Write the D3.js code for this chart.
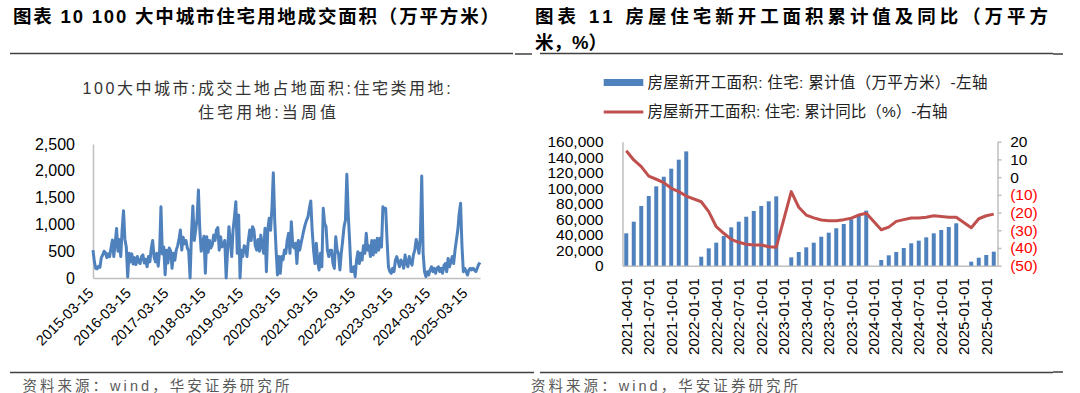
<!DOCTYPE html>
<html>
<head>
<meta charset="utf-8">
<script src="https://cdn.jsdelivr.net/npm/d3@7"></script>
<style>
  body { margin: 0; background: #fff; }
  svg { display: block; font-family: "Liberation Sans", "Noto Sans CJK SC", sans-serif; }
</style>
</head>
<body>
<svg id="chart" width="1080" height="393"></svg>
<script>
// ---------- data: left chart (100 cities, residential land, weekly, sampled) ----------
const landArea = [
  520, 300, 180, 170, 220, 200, 380, 430, 500, 470, 380, 450, 400, 560, 710, 400, 650, 925, 500, 720, 400, 900, 1256, 720, 580, 20,
  460, 300, 450, 260, 380, 250, 400, 300, 270, 400, 430, 280, 350, 210, 400, 300, 550, 700, 400, 300, 460, 220, 500, 1330, 450, 580,
  60, 520, 280, 560, 500, 180, 460, 330, 520, 600, 720, 895, 520, 760, 640, 700, 560, 500, 0, 820, 1343, 700, 890, 1100, 1642, 900,
  500, 650, 780, 90, 770, 480, 700, 560, 620, 800, 700, 900, 940, 520, 770, 580, 600, 700, 0, 500, 958, 700, 400, 900, 1144, 1424,
  460, 1175, 0, 520, 400, 600, 580, 400, 700, 895, 700, 958, 900, 600, 520, 720, 500, 800, 600, 460, 927, 118, 890, 1113, 890, 1300,
  1965, 1080, 520, 56, 400, 87, 400, 340, 520, 460, 700, 833, 460, 1051, 600, 560, 650, 270, 700, 520, 650, 770, 895, 1000, 1080, 1144,
  1300, 1437, 900, 520, 270, 650, 300, 150, 460, 210, 1300, 1020, 958, 520, 400, 520, 520, 270, 180, 770, 520, 450, 150, 460, 700, 958,
  1080, 1934, 1200, 700, 120, 120, 210, 25, 335, 490, 270, 460, 335, 600, 460, 833, 520, 600, 400, 700, 430, 700, 480, 740, 520, 740,
  580, 1330, 1270, 1300, 700, 210, 120, 87, 180, 118, 330, 400, 300, 210, 335, 300, 180, 430, 270, 210, 400, 300, 240, 430, 520, 720,
  600, 460, 771, 1903, 460, 118, 25, 118, 56, 150, 210, 118, 180, 87, 180, 210, 118, 180, 87, 230, 270, 118, 365, 210, 300, 400,
  270, 520, 710, 895, 1200, 1393, 600, 118, 180, 120, 56, 150, 180, 150, 180, 150, 118, 180, 250, 290
];
const landStart = new Date(2015, 2, 15);
const landEnd = new Date(2025, 6, 20);
const landTicks = ["2015-03-15", "2016-03-15", "2017-03-15", "2018-03-15", "2019-03-15", "2020-03-15",
  "2021-03-15", "2022-03-15", "2023-03-15", "2024-03-15", "2025-03-15"];
const landYTicks = [0, 500, 1000, 1500, 2000, 2500];

// ---------- data: right chart (residential new starts, monthly cumulative) ----------
const months = d3.timeMonth.range(new Date(2021, 3, 1), new Date(2025, 5, 1)).map(d3.timeFormat("%Y-%m-01"));
const startsCum = [
  41800, 56800, 77000, 89900, 102400, 114800, 125200, 136800, 147500,
  null, 11600, 22400, 29700, 38300, 49500, 56800, 63200, 70600, 77000, 83100, 89500,
  null, 10800, 17700, 23700, 29700, 37400, 42600, 48300, 53800, 59900, 66300, 71000,
  null, 7400, 13400, 17700, 22800, 28900, 32300, 36600, 41800, 46100, 49900, 54700,
  null, 5200, 10300, 13800, 18100
];
const startsYoy = [
  14.9, 9.7, 5.9, 0.6, -1.2, -3.1, -6.3, -8.2, -10.7,
  null, -13.9, -19.5, -28.0, -31.7, -35.1, -36.8, -37.9, -38.3, -38.3, -39.3, -39.6,
  null, -8.2, -17.0, -21.4, -23.0, -24.2, -24.6, -24.6, -24.0, -23.2, -21.4, -20.4,
  null, -29.7, -28.2, -25.0, -24.0, -23.1, -23.1, -22.6, -21.8, -22.2, -22.6, -22.6,
  null, -28.6, -23.5, -21.8, -20.9
];
const monthTicks = ["2021-04-01", "2021-07-01", "2021-10-01", "2022-01-01", "2022-04-01", "2022-07-01",
  "2022-10-01", "2023-01-01", "2023-04-01", "2023-07-01", "2023-10-01", "2024-01-01", "2024-04-01",
  "2024-07-01", "2024-10-01", "2025-01-01", "2025-04-01"];
const cumTicks = [0, 20000, 40000, 60000, 80000, 100000, 120000, 140000, 160000];
const yoyTicks = [-50, -40, -30, -20, -10, 0, 10, 20];

const blue = "#4f81bd", red = "#c0504d", axisGray = "#bfbfbf";
const svg = d3.select("#chart");

// titles, rules, sources
svg.append("text").attr("x", 13).attr("y", 22.5).attr("font-size", 18.5).attr("font-weight", "bold")
  .attr("textLength", 486).attr("lengthAdjust", "spacing")
  .text("图表 10 100 大中城市住宅用地成交面积（万平方米）");
svg.append("text").attr("x", 535).attr("y", 22.5).attr("font-size", 18.5).attr("font-weight", "bold")
  .attr("textLength", 513).attr("lengthAdjust", "spacing")
  .text("图表 11 房屋住宅新开工面积累计值及同比（万平方");
svg.append("text").attr("x", 535).attr("y", 48.5).attr("font-size", 18.5).attr("font-weight", "bold")
  .text("米，%）");

const rules = [[10, 513, 53.5], [515, 532, 54], [540, 1053, 53.5], [1053, 1063, 54],
  [10, 534, 372.6], [540, 1053, 372.6], [1053, 1063, 372]];
svg.selectAll("line.rule").data(rules).join("line")
  .attr("x1", d => d[0]).attr("x2", d => d[1]).attr("y1", d => d[2]).attr("y2", d => d[2])
  .attr("stroke", "#404040").attr("stroke-width", 1.5);

[22.4, 531].forEach(x => {
  svg.append("text").attr("x", x).attr("y", 385.5).attr("dy", "0.35em").attr("font-size", 14.5)
    .attr("fill", "#595959").attr("textLength", 267).attr("lengthAdjust", "spacing")
    .text("资料来源：wind，华安证券研究所");
});

// ---------- left chart ----------
svg.append("text").attr("x", 82.6).attr("y", 88).attr("dy", "0.35em").attr("font-size", 16)
  .attr("fill", "#333").attr("textLength", 368).attr("lengthAdjust", "spacing")
  .text("100大中城市:成交土地占地面积:住宅类用地:");
svg.append("text").attr("x", 198).attr("y", 112).attr("dy", "0.35em").attr("font-size", 16)
  .attr("fill", "#333").attr("textLength", 138).attr("lengthAdjust", "spacing")
  .text("住宅用地:当周值");

const parseDay = d3.timeParse("%Y-%m-%d");
const landDates = landArea.map((v, i) => new Date(+landStart + i * (landEnd - landStart) / (landArea.length - 1)));
const xL = d3.scaleTime().domain([landStart, landEnd]).range([93, 480]);
const yL = d3.scaleLinear().domain([0, 2500]).range([278, 144]);

function styleAxis(g, size) {
  g.attr("font-family", null).attr("font-size", size);
  g.select(".domain").attr("stroke", axisGray).attr("stroke-width", 1.5);
  g.selectAll(".tick line").attr("stroke", axisGray).attr("stroke-width", 1.5);
  g.selectAll(".tick text").attr("fill", "#000");
}

svg.append("g").attr("transform", "translate(93,0)")
  .call(d3.axisLeft(yL).tickValues(landYTicks).tickFormat(d3.format(",")).tickSize(0).tickPadding(18))
  .call(styleAxis, 16);

svg.append("g").attr("transform", "translate(0,278)")
  .call(d3.axisBottom(xL).tickValues(landTicks.map(parseDay)).tickFormat(d3.timeFormat("%Y-%m-%d"))
    .tickSize(0).tickSizeOuter(0))
  .call(styleAxis, 14.5)
  .selectAll(".tick text")
  .attr("x", 0).attr("y", 0).attr("dy", 0).attr("text-anchor", "end")
  .attr("transform", "translate(1,16) rotate(-45)");

svg.append("path").datum(landArea)
  .attr("d", d3.line().x((d, i) => xL(landDates[i])).y(d => yL(d)))
  .attr("fill", "none").attr("stroke", blue).attr("stroke-width", 3).attr("stroke-linejoin", "round");

// ---------- right chart ----------
svg.append("rect").attr("x", 603.7).attr("y", 79).attr("width", 39.6).attr("height", 7).attr("fill", blue);
svg.append("line").attr("x1", 603.7).attr("x2", 643.3).attr("y1", 112).attr("y2", 112)
  .attr("stroke", red).attr("stroke-width", 3);
svg.append("text").attr("x", 647.4).attr("y", 82.6).attr("dy", "0.35em").attr("font-size", 15.5)
  .attr("fill", "#222").attr("textLength", 340).attr("lengthAdjust", "spacing")
  .text("房屋新开工面积: 住宅: 累计值（万平方米）-左轴");
svg.append("text").attr("x", 647.4).attr("y", 112).attr("dy", "0.35em").attr("font-size", 15.5)
  .attr("fill", "#222").attr("textLength", 300).attr("lengthAdjust", "spacing")
  .text("房屋新开工面积: 住宅: 累计同比（%）-右轴");

const xR = d3.scaleBand().domain(months).range([622.5, 997.5]).paddingInner(0.47).paddingOuter(0.235);
const yCum = d3.scaleLinear().domain([0, 160000]).range([265.7, 141.7]);
const yYoy = d3.scaleLinear().domain([-50, 20]).range([265.7, 141.7]);

svg.append("g").attr("transform", "translate(622.5,0)")
  .call(d3.axisLeft(yCum).tickValues(cumTicks).tickFormat(d3.format(",")).tickSize(0).tickPadding(19))
  .call(styleAxis, 15.5);

svg.append("g").attr("transform", "translate(997.5,0)")
  .call(d3.axisRight(yYoy).tickValues(yoyTicks).tickSizeInner(4).tickSizeOuter(0).tickPadding(8.7)
    .tickFormat(d => d < 0 ? "(" + Math.abs(d) + ")" : d))
  .call(styleAxis, 15.5)
  .selectAll(".tick text").attr("fill", d => d < 0 ? "#ff0000" : "#000");

svg.append("g").attr("transform", "translate(0,265.7)")
  .call(d3.axisBottom(xR).tickValues(monthTicks).tickSize(0).tickSizeOuter(0))
  .call(styleAxis, 15)
  .selectAll(".tick text")
  .attr("x", 0).attr("y", 0).attr("dy", "0.35em").attr("text-anchor", "end")
  .attr("transform", "translate(0,12.5) rotate(-90)");

const monthly = months.map((m, i) => ({ m, cum: startsCum[i], yoy: startsYoy[i] }));

svg.selectAll("rect.bar").data(monthly.filter(d => d.cum != null)).join("rect")
  .attr("class", "bar")
  .attr("x", d => xR(d.m)).attr("width", xR.bandwidth())
  .attr("y", d => yCum(d.cum)).attr("height", d => yCum(0) - yCum(d.cum))
  .attr("fill", blue);

svg.append("path").datum(monthly.filter(d => d.yoy != null))
  .attr("d", d3.line().x(d => xR(d.m) + xR.bandwidth() / 2).y(d => yYoy(d.yoy)))
  .attr("fill", "none").attr("stroke", red).attr("stroke-width", 3).attr("stroke-linejoin", "round");
</script>
</body>
</html>
